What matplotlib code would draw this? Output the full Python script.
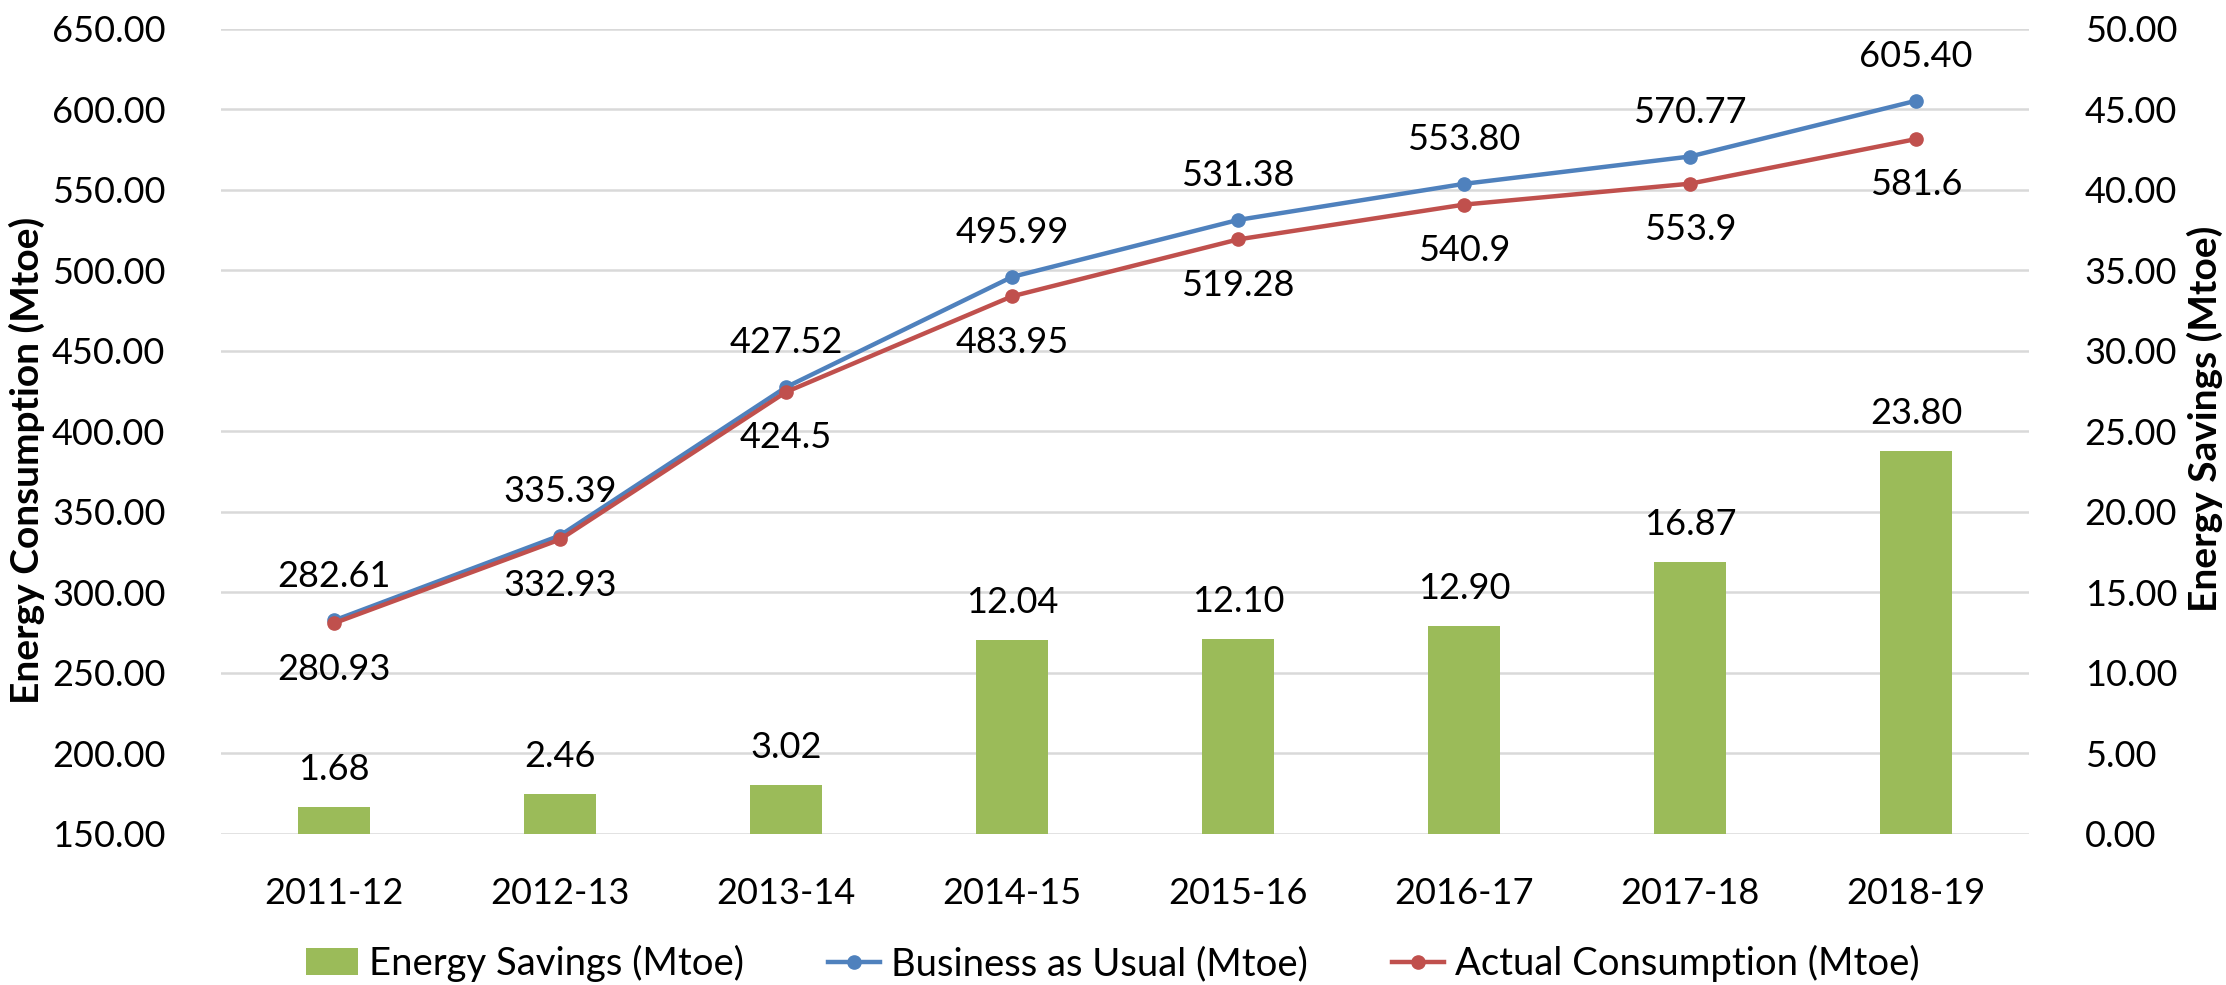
import matplotlib
matplotlib.use("Agg")
import matplotlib.pyplot as plt
import numpy as np

plt.rcParams['font.family'] = ['Lato', 'DejaVu Sans']

years = ["2011-12", "2012-13", "2013-14", "2014-15", "2015-16", "2016-17", "2017-18", "2018-19"]
savings = [1.68, 2.46, 3.02, 12.04, 12.10, 12.90, 16.87, 23.80]
bau = [282.61, 335.39, 427.52, 495.99, 531.38, 553.80, 570.77, 605.40]
actual = [280.93, 332.93, 424.5, 483.95, 519.28, 540.9, 553.9, 581.6]
savings_labels = ["1.68", "2.46", "3.02", "12.04", "12.10", "12.90", "16.87", "23.80"]
bau_labels = ["282.61", "335.39", "427.52", "495.99", "531.38", "553.80", "570.77", "605.40"]
actual_labels = ["280.93", "332.93", "424.5", "483.95", "519.28", "540.9", "553.9", "581.6"]

GREEN = "#9BBB59"
BLUE = "#4F81BD"
RED = "#C0504D"
FS = 26

fig = plt.figure(figsize=(22.26, 9.85), dpi=100)
ax1 = fig.add_axes([0.0993, 0.1533, 0.9115 - 0.0993, 0.9706 - 0.1533])
ax2 = ax1.twinx()

x = np.arange(len(years))

# bars on right axis (drawn below)
bars = ax2.bar(x, savings, width=0.315, color=GREEN, zorder=2, label="Energy Savings (Mtoe)")
ax2.set_ylim(0, 50)
ax2.set_yticks(np.arange(0, 50.1, 5))
ax2.set_yticklabels([f"{v:.2f}" for v in np.arange(0, 50.1, 5)])
ax2.yaxis.grid(True, color="#D9D9D9", linewidth=1.8, zorder=0)
ax2.set_axisbelow(True)
for xi, v, lab in zip(x, savings, savings_labels):
    ax2.annotate(lab, (xi, v), xytext=(0, 27), textcoords="offset points",
                 ha="center", va="center", fontsize=FS)

# lines on left axis (drawn above)
ax1.set_zorder(ax2.get_zorder() + 1)
ax1.patch.set_visible(False)
l1, = ax1.plot(x, bau, color=BLUE, linewidth=3.2, marker="o", markersize=9.5, label="Business as Usual (Mtoe)")
l2, = ax1.plot(x, actual, color=RED, linewidth=3.2, marker="o", markersize=9.5, label="Actual Consumption (Mtoe)")
ax1.set_ylim(150, 650)
ax1.set_yticks(np.arange(150, 651, 50))
ax1.set_yticklabels([f"{v:.2f}" for v in np.arange(150, 651, 50)])
ax1.set_xlim(-0.5, len(years) - 0.5)
ax1.set_xticks(x)
ax1.set_xticklabels(years)
for xi, v, lab in zip(x, bau, bau_labels):
    ax1.annotate(lab, (xi, v), xytext=(0, 32), textcoords="offset points",
                 ha="center", va="center", fontsize=FS)
for xi, v, lab in zip(x, actual, actual_labels):
    ax1.annotate(lab, (xi, v), xytext=(0, -33), textcoords="offset points",
                 ha="center", va="center", fontsize=FS)

for ax in (ax1, ax2):
    for s in ax.spines.values():
        s.set_visible(False)
    ax.tick_params(length=0, labelsize=FS)
ax1.tick_params(axis="y", pad=40)
ax2.tick_params(axis="y", pad=40)
ax1.tick_params(axis="x", pad=31)

fig.text(27 / 2226, 1 - 460 / 985, "Energy Consumption (Mtoe)", rotation=90,
         ha="center", va="center", fontsize=28, fontweight="bold")
fig.text(2205 / 2226, 1 - 419 / 985, "Energy Savings (Mtoe)", rotation=90,
         ha="center", va="center", fontsize=28, fontweight="bold")

fig.legend(handles=[bars, l1, l2], loc="lower center", bbox_to_anchor=(0.5, -0.032),
           ncol=3, frameon=False, fontsize=27.5, handlelength=1.35, handletextpad=0.3,
           columnspacing=2.2)

fig.savefig("out.png", dpi=100)
